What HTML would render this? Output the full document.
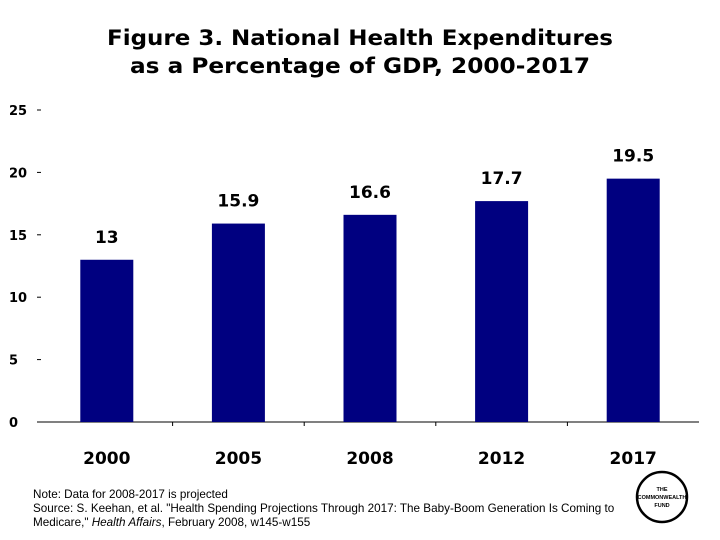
<!DOCTYPE html>
<html><head><meta charset="utf-8"><style>
body{margin:0;background:#fff;}
svg{display:block;font-family:"Liberation Sans",Arial,sans-serif;}
.b{font-family:"DejaVu Sans",sans-serif;font-weight:bold;}
</style></head><body>
<svg id="c" width="720" height="540">
<text class="b" x="107" y="45" textLength="506" lengthAdjust="spacingAndGlyphs" font-size="21">Figure 3. National Health Expenditures</text>
<text class="b" x="130" y="73" textLength="460" lengthAdjust="spacingAndGlyphs" font-size="21">as a Percentage of GDP, 2000-2017</text>
<g id="axes"></g><g id="bars"></g>
<text x="33" y="498" font-size="11.7">Note: Data for 2008-2017 is projected</text>
<text x="33" y="512" font-size="11.7">Source: S. Keehan, et al. "Health Spending Projections Through 2017: The Baby-Boom Generation Is Coming to</text>
<text x="33" y="526" font-size="11.7">Medicare," <tspan font-style="italic">Health Affairs</tspan>, February 2008, w145-w155</text>
<g>
<circle cx="662" cy="497" r="25" fill="none" stroke="#000" stroke-width="2.5"/>
<text x="662" y="491" text-anchor="middle" font-size="5.5" font-weight="bold">THE</text>
<text x="662" y="499" text-anchor="middle" font-size="5.5" font-weight="bold">COMMONWEALTH</text>
<text x="662" y="507" text-anchor="middle" font-size="5.5" font-weight="bold">FUND</text>
</g>
</svg>
<script>
const categories=["2000","2005","2008","2012","2017"];
const values=[13,15.9,16.6,17.7,19.5];
const labels=["13","15.9","16.6","17.7","19.5"];
const yTicks=[0,5,10,15,20,25];
const NS="http://www.w3.org/2000/svg";
const x0=41,x1=699,yBase=422,yTop=110,yMax=25;
const step=(x1-x0)/categories.length;
const y=v=>yBase-(v/yMax)*(yBase-yTop);
const xc=i=>x0+step*(i+0.5);
function mk(t,a,p){const e=document.createElementNS(NS,t);for(const k in a)e.setAttribute(k,a[k]);p.appendChild(e);return e;}
const ax=document.getElementById('axes'),bs=document.getElementById('bars');
const base=mk('line',{x1:x0-4,x2:x1,y1:yBase,y2:yBase,stroke:'#000'},ax);


yTicks.forEach(t=>{
 const tk=mk('line',{x1:x0-4,x2:x0,y1:y(t),y2:y(t),stroke:'#000'},ax);
 
 
 const l=mk('text',{x:9,y:y(t)+5,'font-size':13,'class':'b'},ax);
 l.textContent=t;
 
 
});
for(let i=1;i<categories.length;i++){
 const tk=mk('line',{x1:x0+step*i,x2:x0+step*i,y1:yBase,y2:yBase+4,stroke:'#000'},ax);
 
 
}
const bw=53;
categories.forEach((c,i)=>{
 const r=mk('rect',{x:xc(i)-bw/2,y:y(values[i]),width:bw,height:yBase-y(values[i]),fill:'#000080'},bs);
 
 
 const v=mk('text',{x:xc(i),y:y(values[i])-17,'text-anchor':'middle','font-size':17,'class':'b'},bs);
 v.textContent=labels[i];
 
 
 const cl=mk('text',{x:xc(i),y:464,'text-anchor':'middle','font-size':17,'class':'b'},bs);
 cl.textContent=c;
 
 
});
</script>
</body></html>
